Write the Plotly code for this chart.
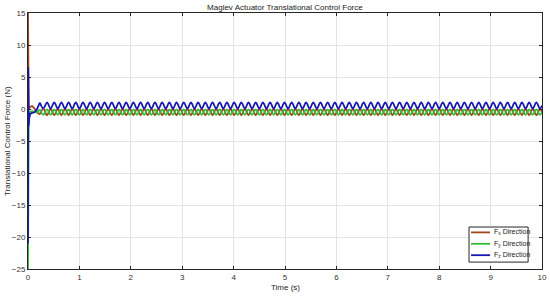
import plotly.graph_objects as go

# time samples (s): start-up transient, then the steady oscillation extremes
t_start = [0.000, 0.004, 0.008, 0.014, 0.025, 0.045, 0.080, 0.120, 0.170]
t_osc = [
    0.23, 0.30, 0.37, 0.44, 0.51, 0.58, 0.65, 0.72, 0.79, 0.86,
    0.93, 1.00, 1.07, 1.14, 1.21, 1.28, 1.35, 1.42, 1.49, 1.56,
    1.63, 1.70, 1.77, 1.84, 1.91, 1.98, 2.05, 2.12, 2.19, 2.26,
    2.33, 2.40, 2.47, 2.54, 2.61, 2.68, 2.75, 2.82, 2.89, 2.96,
    3.03, 3.10, 3.17, 3.24, 3.31, 3.38, 3.45, 3.52, 3.59, 3.66,
    3.73, 3.80, 3.87, 3.94, 4.01, 4.08, 4.15, 4.22, 4.29, 4.36,
    4.43, 4.50, 4.57, 4.64, 4.71, 4.78, 4.85, 4.92, 4.99, 5.06,
    5.13, 5.20, 5.27, 5.34, 5.41, 5.48, 5.55, 5.62, 5.69, 5.76,
    5.83, 5.90, 5.97, 6.04, 6.11, 6.18, 6.25, 6.32, 6.39, 6.46,
    6.53, 6.60, 6.67, 6.74, 6.81, 6.88, 6.95, 7.02, 7.09, 7.16,
    7.23, 7.30, 7.37, 7.44, 7.51, 7.58, 7.65, 7.72, 7.79, 7.86,
    7.93, 8.00, 8.07, 8.14, 8.21, 8.28, 8.35, 8.42, 8.49, 8.56,
    8.63, 8.70, 8.77, 8.84, 8.91, 8.98, 9.05, 9.12, 9.19, 9.26,
    9.33, 9.40, 9.47, 9.54, 9.61, 9.68, 9.75, 9.82, 9.89, 9.96,
    10.00,
]

# Fx (N)
fx_start = [15.0, 8.0, 2.5, 0.3, 0.1, 0.35, 0.45, 0.15, -0.45]
fx_osc = [
    -0.85, 0.02, -0.97, 0.03, -0.96, 0.02, -0.97, 0.03, -0.96, 0.02,
    -0.97, 0.03, -0.96, 0.02, -0.97, 0.03, -0.96, 0.02, -0.97, 0.03,
    -0.96, 0.02, -0.97, 0.03, -0.96, 0.02, -0.97, 0.03, -0.96, 0.02,
    -0.97, 0.03, -0.96, 0.02, -0.97, 0.03, -0.96, 0.02, -0.97, 0.03,
    -0.96, 0.02, -0.97, 0.03, -0.96, 0.02, -0.97, 0.03, -0.96, 0.02,
    -0.97, 0.03, -0.96, 0.02, -0.97, 0.03, -0.96, 0.02, -0.97, 0.03,
    -0.96, 0.02, -0.97, 0.03, -0.96, 0.02, -0.97, 0.03, -0.96, 0.02,
    -0.97, 0.03, -0.96, 0.02, -0.97, 0.03, -0.96, 0.02, -0.97, 0.03,
    -0.96, 0.02, -0.97, 0.03, -0.96, 0.02, -0.97, 0.03, -0.96, 0.02,
    -0.97, 0.03, -0.96, 0.02, -0.97, 0.03, -0.96, 0.02, -0.97, 0.03,
    -0.96, 0.02, -0.97, 0.03, -0.96, 0.02, -0.97, 0.03, -0.96, 0.02,
    -0.97, 0.03, -0.96, 0.02, -0.97, 0.03, -0.96, 0.02, -0.97, 0.03,
    -0.96, 0.02, -0.97, 0.03, -0.96, 0.02, -0.97, 0.03, -0.96, 0.02,
    -0.97, 0.03, -0.96, 0.02, -0.97, 0.03, -0.96, 0.02, -0.97, 0.03,
    -0.45,
]

# Fy (N)
fy_start = [-25.0, -14.0, -4.0, -1.2, -0.6, -0.45, -0.35, -0.4, -0.55]
fy_osc = [
    -0.10, -0.90, -0.07, -0.93, -0.08, -0.92, -0.07, -0.93, -0.08, -0.92,
    -0.07, -0.93, -0.08, -0.92, -0.07, -0.93, -0.08, -0.92, -0.07, -0.93,
    -0.08, -0.92, -0.07, -0.93, -0.08, -0.92, -0.07, -0.93, -0.08, -0.92,
    -0.07, -0.93, -0.08, -0.92, -0.07, -0.93, -0.08, -0.92, -0.07, -0.93,
    -0.08, -0.92, -0.07, -0.93, -0.08, -0.92, -0.07, -0.93, -0.08, -0.92,
    -0.07, -0.93, -0.08, -0.92, -0.07, -0.93, -0.08, -0.92, -0.07, -0.93,
    -0.08, -0.92, -0.07, -0.93, -0.08, -0.92, -0.07, -0.93, -0.08, -0.92,
    -0.07, -0.93, -0.08, -0.92, -0.07, -0.93, -0.08, -0.92, -0.07, -0.93,
    -0.08, -0.92, -0.07, -0.93, -0.08, -0.92, -0.07, -0.93, -0.08, -0.92,
    -0.07, -0.93, -0.08, -0.92, -0.07, -0.93, -0.08, -0.92, -0.07, -0.93,
    -0.08, -0.92, -0.07, -0.93, -0.08, -0.92, -0.07, -0.93, -0.08, -0.92,
    -0.07, -0.93, -0.08, -0.92, -0.07, -0.93, -0.08, -0.92, -0.07, -0.93,
    -0.08, -0.92, -0.07, -0.93, -0.08, -0.92, -0.07, -0.93, -0.08, -0.92,
    -0.07, -0.93, -0.08, -0.92, -0.07, -0.93, -0.08, -0.92, -0.07, -0.93,
    -0.50,
]

# Fz (N)
fz_start = [-21.0, 6.5, -0.5, -2.6, -1.4, -0.75, -0.6, -0.55, -0.1]
fz_osc = [
    1.00, 0.10, 1.04, 0.06, 1.03, 0.05, 1.04, 0.05, 1.03, 0.06,
    1.04, 0.05, 1.03, 0.06, 1.04, 0.05, 1.03, 0.05, 1.04, 0.06,
    1.03, 0.05, 1.04, 0.06, 1.03, 0.05, 1.04, 0.05, 1.03, 0.06,
    1.04, 0.05, 1.03, 0.06, 1.04, 0.05, 1.03, 0.05, 1.04, 0.06,
    1.03, 0.05, 1.04, 0.06, 1.03, 0.05, 1.04, 0.05, 1.03, 0.06,
    1.04, 0.05, 1.03, 0.06, 1.04, 0.05, 1.03, 0.05, 1.04, 0.06,
    1.03, 0.05, 1.04, 0.06, 1.03, 0.05, 1.04, 0.05, 1.03, 0.06,
    1.04, 0.05, 1.03, 0.06, 1.04, 0.05, 1.03, 0.05, 1.04, 0.06,
    1.03, 0.05, 1.04, 0.06, 1.03, 0.05, 1.04, 0.05, 1.03, 0.06,
    1.04, 0.05, 1.03, 0.06, 1.04, 0.05, 1.03, 0.05, 1.04, 0.06,
    1.03, 0.05, 1.04, 0.06, 1.03, 0.05, 1.04, 0.05, 1.03, 0.06,
    1.04, 0.05, 1.03, 0.06, 1.04, 0.05, 1.03, 0.05, 1.04, 0.06,
    1.03, 0.05, 1.04, 0.06, 1.03, 0.05, 1.04, 0.05, 1.03, 0.06,
    1.04, 0.05, 1.03, 0.06, 1.04, 0.05, 1.03, 0.05, 1.04, 0.06,
    0.55,
]

names = ['F<sub>x</sub> Direction', 'F<sub>y</sub> Direction', 'F<sub>z</sub> Direction']
colors = ['#a0461e', '#33bb33', '#1818b0']

starts = [fx_start, fy_start, fz_start]
oscs = [fx_osc, fy_osc, fz_osc]

fig = go.Figure()
for name, y0, y1, c in zip(names, starts, oscs, colors):
    # sharp start-up transient drawn straight, steady ripple drawn smooth
    fig.add_trace(go.Scatter(x=t_start + t_osc[:1], y=y0 + y1[:1], mode='lines', name=name,
                             showlegend=False, line=dict(color=c, width=1.8)))
    fig.add_trace(go.Scatter(x=t_osc, y=y1, mode='lines', name=name, showlegend=False,
                             line=dict(color=c, width=1.8, shape='spline', smoothing=1)))

font = 'Liberation Sans, Arial, sans-serif'
axis = dict(showgrid=True, gridcolor='#e4e4e4', gridwidth=1, zeroline=False,
            showline=True, linecolor='#262626', linewidth=1, mirror='ticks',
            ticks='inside', ticklen=3, tickcolor='#262626', automargin=False,
            tickfont=dict(size=8, color='#333', family=font))

fig.update_layout(
    width=550, height=298,
    margin=dict(l=28, r=8, t=13, b=29),
    paper_bgcolor='white', plot_bgcolor='white',
    title=dict(text='Maglev Actuator Translational Control Force', x=0.518, xanchor='center',
               y=0.985, yanchor='top', font=dict(size=8, color='#222', family=font)),
    xaxis=dict(axis, range=[0, 10], dtick=1),
    yaxis=dict(axis, range=[-25, 15], dtick=5),
    showlegend=False,
)

# axis titles
fig.add_annotation(text='Time (s)', xref='paper', yref='paper', x=0.5, y=-0.074,
                   xanchor='center', yanchor='middle', showarrow=False,
                   font=dict(size=8, color='#222', family=font))
fig.add_annotation(text='Translational Control Force (N)', xref='paper', yref='paper',
                   x=-0.041, y=0.5, textangle=-90, xanchor='center', yanchor='middle',
                   showarrow=False, font=dict(size=8, color='#222', family=font))

# legend box, drawn by hand to keep it compact
fig.add_shape(type='rect', xref='paper', yref='paper', x0=0.858, x1=0.973, y0=0.027, y1=0.164,
              line=dict(color='#262626', width=1), fillcolor='white', layer='above')
for i, (name, c) in enumerate(zip(names, colors)):
    yy = 0.143 - i * 0.0445
    fig.add_shape(type='line', xref='paper', yref='paper', x0=0.862, x1=0.899, y0=yy, y1=yy,
                  line=dict(color=c, width=1.8), layer='above')
    fig.add_annotation(text=name, xref='paper', yref='paper', x=0.902, y=yy,
                       xanchor='left', yanchor='middle', showarrow=False,
                       font=dict(size=7, color='#222', family=font))

fig.write_html("out.html", config={'displayModeBar': False},
               post_script="document.body.style.margin='0';")
